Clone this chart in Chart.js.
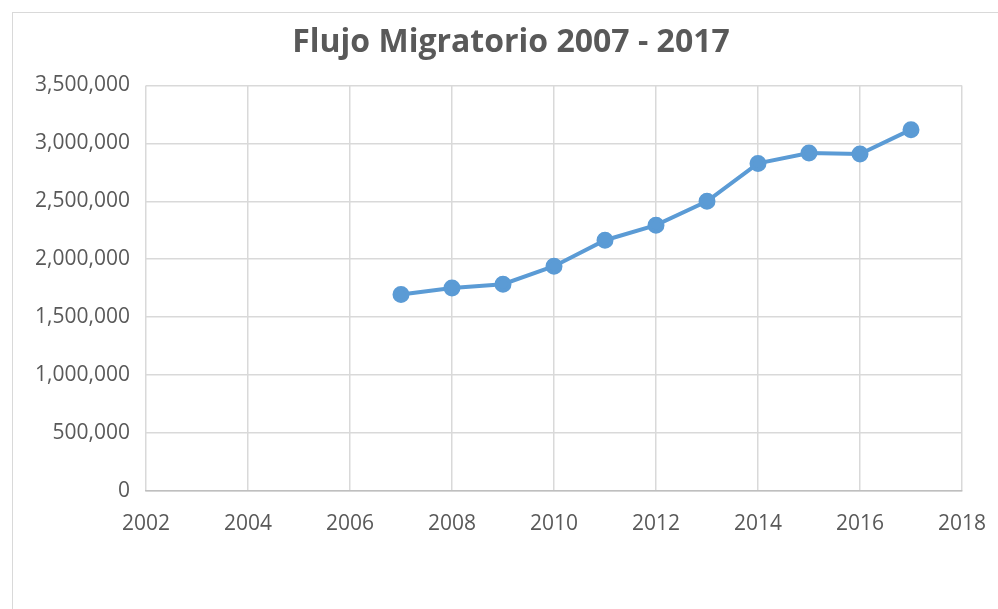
<!DOCTYPE html>
<html>
<head>
<meta charset="utf-8">
<script src="https://cdn.jsdelivr.net/npm/chart.js@4.4.1/dist/chart.umd.min.js"></script>
<style>
    body { margin: 0; background: #fff; }
    #frame {
        position: absolute; left: 12px; top: 12px;
        width: 1100px; height: 700px;
        border: 1px solid #d9d9d9;
    }
    #wrap { position: absolute; left: 0; top: 0; width: 998px; height: 609px; }
</style>
</head>
<body>
<div id="frame"></div>
<div id="wrap"><canvas id="Flujo" width="998" height="609"></canvas></div>
<script>
// Data
const years = [2007, 2008, 2009, 2010, 2011, 2012, 2013, 2014, 2015, 2016, 2017];
const migrants = [1695000, 1752000, 1784000, 1940000, 2164000, 2294000, 2500000, 2827000, 2917000, 2908000, 3118000];
const xTicks = [2002, 2004, 2006, 2008, 2010, 2012, 2014, 2016, 2018];
const yTicks = [0, 500000, 1000000, 1500000, 2000000, 2500000, 3000000, 3500000];

const points = years.map((y, i) => ({ x: y, y: migrants[i] }));
const textColor = "#595959";
const gridColor = "#d9d9d9";
const fontFamily = "'Open Sans', sans-serif";

const ctx = document.getElementById("Flujo").getContext("2d");
new Chart(ctx, {
    type: "line",
    data: {
        datasets: [{
            data: points,
            borderColor: "#5b9bd5",
            backgroundColor: "#5b9bd5",
            borderWidth: 4,
            pointRadius: 6.5,
            pointHoverRadius: 6.5,
            tension: 0
        }]
    },
    options: {
        responsive: false,
        animation: false,
        layout: { padding: { left: 24, right: 0, top: 0, bottom: 0 } },
        plugins: {
            legend: { display: false },
            tooltip: { enabled: false },
            title: {
                display: true,
                text: "Flujo Migratorio 2007 - 2017",
                color: textColor,
                font: { family: fontFamily, size: 32, weight: "bold" },
                padding: { top: 24, bottom: 23 }
            }
        },
        scales: {
            x: {
                type: "linear",
                min: xTicks[0],
                max: xTicks[xTicks.length - 1],
                afterBuildTicks: (scale) => { scale.ticks = xTicks.map(v => ({ value: v })); },
                afterFit: (scale) => {
                    scale.height = 609 - 491;
                    scale.paddingRight = 36;
                },
                grid: { color: gridColor, lineWidth: 1.5, drawTicks: false },
                border: { color: "#bfbfbf", width: 1.5 },
                ticks: {
                    color: textColor,
                    padding: 20,
                    font: { family: fontFamily, size: 21 },
                    callback: (v) => String(v)
                }
            },
            y: {
                min: yTicks[0],
                max: yTicks[yTicks.length - 1],
                afterBuildTicks: (scale) => { scale.ticks = yTicks.map(v => ({ value: v })); },
                afterFit: (scale) => { scale.width = 122; },
                grid: { color: gridColor, lineWidth: 1.5, drawTicks: false },
                border: { display: false },
                ticks: {
                    color: textColor,
                    padding: 16,
                    font: { family: fontFamily, size: 21 },
                    callback: (v) => v.toLocaleString("en-US")
                }
            }
        }
    }
});
</script>
</body>
</html>
